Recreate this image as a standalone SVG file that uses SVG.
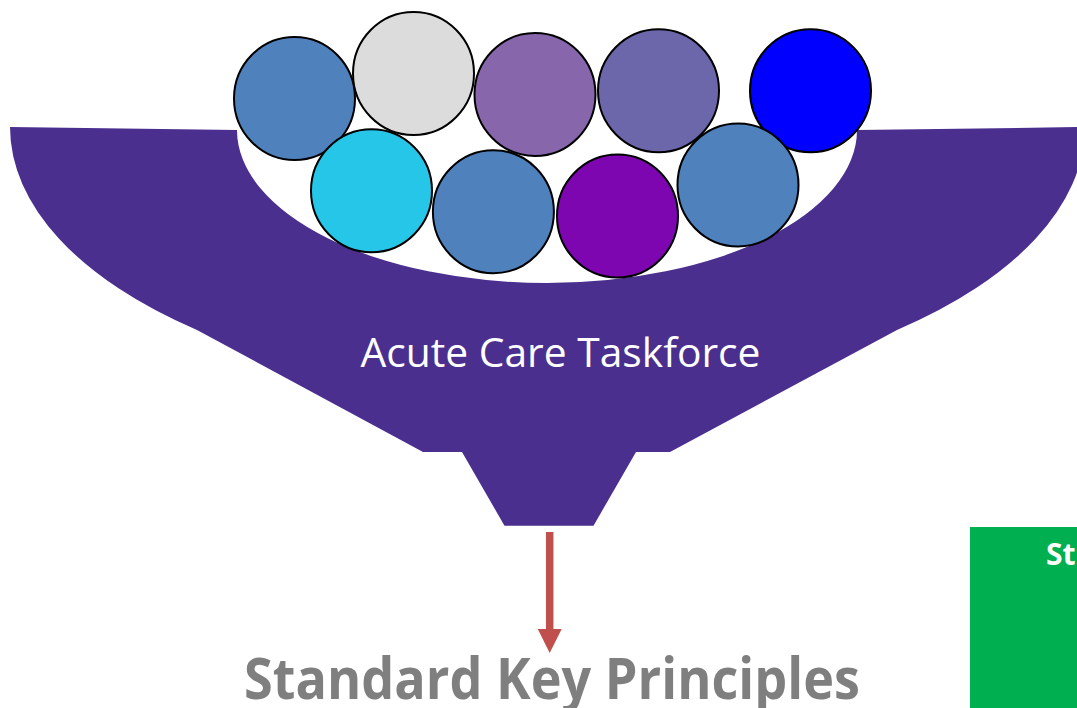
<svg xmlns="http://www.w3.org/2000/svg" width="1077" height="708" viewBox="0 0 1077 708">
  <style>
    .ball { stroke: #000000; stroke-width: 2; }
    .steel { fill: #4F81BD; }
    .label { font-family: "Open Sans", "Liberation Sans", sans-serif; }
  </style>
  <defs>
    <marker id="arrowHead" markerUnits="userSpaceOnUse" markerWidth="24" markerHeight="24" refX="0" refY="12" orient="auto">
      <path d="M0,0 L24,12 L0,24 Z" fill="#C0504D"/>
    </marker>
  </defs>
  <rect width="1077" height="708" fill="#FFFFFF"/>

  <!-- funnel body with bowl cut-out and spout -->
  <g id="funnel">
    <path d="M10,127 L237,130 A310,153 0 0 0 857,130 L1085,127 A537.5,268 0 0 1 897,330 L670,452 L636,452 L593.5,525.7 L504.5,525.7 L462,452 L423,452 L197,330 A537.5,268 0 0 1 10,127 Z" fill="#4A2F8F"/>
    <text class="label" x="560.5" y="367" font-size="40" fill="#FFFFFF" text-anchor="middle" textLength="400" lengthAdjust="spacingAndGlyphs">Acute Care Taskforce</text>
  </g>

  <!-- balls inside the bowl -->
  <g id="ball-1"><ellipse class="ball steel" cx="294.5" cy="98.5" rx="60.5" ry="61.5"/></g>
  <g id="ball-2"><ellipse class="ball" cx="413.5" cy="73.5" rx="60.5" ry="61.5" fill="#DCDCDC"/></g>
  <g id="ball-3"><ellipse class="ball" cx="535" cy="94.5" rx="60.5" ry="61.5" fill="#8766AC"/></g>
  <g id="ball-4"><ellipse class="ball" cx="658.5" cy="90.7" rx="60.5" ry="61.5" fill="#6C66AA"/></g>
  <g id="ball-5"><ellipse class="ball" cx="810.5" cy="90.7" rx="60.5" ry="61.5" fill="#0000FF"/></g>
  <g id="ball-6"><ellipse class="ball" cx="371.5" cy="190.7" rx="60.5" ry="61.5" fill="#26C6E9"/></g>
  <g id="ball-7"><ellipse class="ball steel" cx="493.4" cy="211.7" rx="60.5" ry="61.5"/></g>
  <g id="ball-8"><ellipse class="ball" cx="617.5" cy="216" rx="60.5" ry="61.5" fill="#7D06B1"/></g>
  <g id="ball-9"><ellipse class="ball steel" cx="738" cy="185" rx="60.5" ry="61.5"/></g>

  <!-- output arrow -->
  <g id="connectors">
    <line x1="549.7" y1="532" x2="549.7" y2="629" stroke="#C0504D" stroke-width="7.5" marker-end="url(#arrowHead)"/>
  </g>

  <g id="result">
    <text class="label" x="552" y="699" font-size="58" font-weight="bold" fill="#7F7F7F" text-anchor="middle" textLength="616" lengthAdjust="spacingAndGlyphs">Standard Key Principles</text>
  </g>

  <g id="side-box">
    <rect x="970" y="527" width="120" height="190" fill="#00B050"/>
    <text class="label" x="1046" y="565" font-size="30" font-weight="bold" fill="#FFFFFF">St</text>
  </g>
</svg>
